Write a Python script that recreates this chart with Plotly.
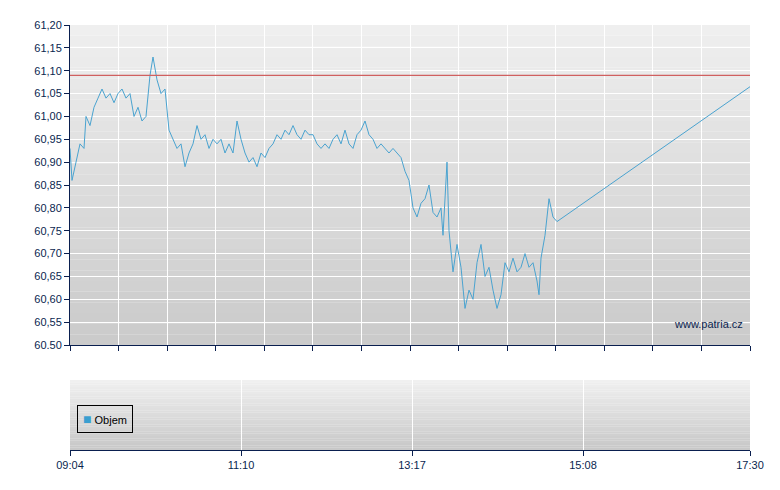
import plotly.graph_objects as go

x_pos = [0,2,6,10,14,16,20,24,28,32,36,40,44,48,52,56,60,64,68,72,76,80,83,87,91,95,99,103,107,111,115,119,123,127,131,135,139,143,147,151,155,159,163,167,171,175,179,183,187,191,195,199,203,207,211,215,219,223,227,231,235,239,243,247,251,255,259,263,267,271,275,279,283,287,291,295,299,303,307,311,315,319,323,327,331,335,339,343,347,351,355,359,363,367,371,373,377,379,383,387,391,395,399,403,407,411,415,419,423,427,431,435,439,443,447,451,455,459,463,467,469,471,475,479,483,487,680]
prices = [60.93,60.86,60.90,60.94,60.93,61.00,60.98,61.02,61.04,61.06,61.04,61.05,61.03,61.05,61.06,61.04,61.05,61.00,61.02,60.99,61.00,61.09,61.13,61.08,61.05,61.06,60.97,60.95,60.93,60.94,60.89,60.92,60.94,60.98,60.95,60.96,60.93,60.95,60.94,60.95,60.92,60.94,60.92,60.99,60.95,60.92,60.90,60.91,60.89,60.92,60.91,60.93,60.94,60.96,60.95,60.97,60.96,60.98,60.96,60.95,60.97,60.96,60.96,60.94,60.93,60.94,60.93,60.95,60.96,60.94,60.97,60.94,60.93,60.96,60.97,60.99,60.96,60.95,60.93,60.94,60.93,60.92,60.93,60.92,60.91,60.88,60.86,60.80,60.78,60.81,60.82,60.85,60.79,60.78,60.80,60.74,60.90,60.75,60.66,60.72,60.67,60.58,60.62,60.60,60.68,60.72,60.65,60.67,60.62,60.58,60.61,60.68,60.66,60.69,60.66,60.67,60.70,60.67,60.68,60.64,60.61,60.69,60.74,60.82,60.78,60.77,61.065]
ref_price = 61.09
y_ticks = [60.50,60.55,60.60,60.65,60.70,60.75,60.80,60.85,60.90,60.95,61.00,61.05,61.10,61.15,61.20]
y_labels = ["60.50","60,55","60,60","60,65","60,70","60,75","60,80","60,85","60,90","60,95","61,00","61,05","61,10","61,15","61,20"]
time_labels = ["09:04","11:10","13:17","15:08","17:30"]
time_pos = [0,171,342,513,680]

navy = "#0a1f4f"
fig = go.Figure()
fig.add_trace(go.Scatter(x=x_pos, y=prices, mode="lines", line=dict(color="#4aa3d0", width=1), xaxis="x", yaxis="y", hoverinfo="skip"))
fig.add_trace(go.Scatter(x=[0,680], y=[ref_price,ref_price], mode="lines", line=dict(color="#d06060", width=1.3), xaxis="x", yaxis="y", hoverinfo="skip"))
fig.add_trace(go.Scatter(x=[0,680], y=[-1,-1], mode="lines", line=dict(width=0), xaxis="x2", yaxis="y2", hoverinfo="skip"))

shapes = []
n = 30
for xd, yd, top, bot in [("x", "y", (239,239,239), (203,203,203)), ("x2", "y2", (240,240,240), (200,200,200))]:
    for i in range(n):
        t = i/(n-1)
        c = tuple(int(top[k] + (bot[k]-top[k])*t) for k in range(3))
        shapes.append(dict(type="rect", xref=xd+" domain", yref=yd+" domain",
                           x0=0, x1=1, y0=1-(i+1)/n, y1=1-i/n, fillcolor="rgb(%d,%d,%d)" % c, line=dict(width=0), layer="below"))

H = 490.0
fig.update_layout(
    width=780, height=490, margin=dict(l=62, r=38, t=0, b=0, autoexpand=False),
    paper_bgcolor="white", plot_bgcolor="rgba(0,0,0,0)", showlegend=False, shapes=shapes,
    font=dict(family="Liberation Sans, Arial", size=11, color=navy),
    xaxis=dict(domain=[0,1], range=[0,680], tickvals=[i*680/14 for i in range(15)], ticktext=[""]*15,
               showgrid=True, gridcolor="white", gridwidth=1, ticks="outside", ticklen=5, tickcolor=navy,
               showline=True, linecolor=navy, linewidth=1, anchor="y", zeroline=False, automargin=False),
    yaxis=dict(domain=[1-337/H, 1-17/H], range=[60.5,61.2], tickvals=y_ticks, ticktext=y_labels,
               showgrid=True, gridcolor="white", ticks="outside", ticklen=5, tickcolor=navy, showline=True,
               linecolor=navy, zeroline=False, automargin=False),
    xaxis2=dict(domain=[0,1], range=[0,680], tickvals=time_pos, ticktext=time_labels, showgrid=True,
                gridcolor="white", ticks="outside", ticklen=5, tickcolor=navy, showline=True, linecolor=navy,
                anchor="y2", zeroline=False, automargin=False),
    yaxis2=dict(domain=[1-442/H, 1-372/H], range=[0,1], showticklabels=False, showgrid=False,
                zeroline=False, anchor="x2", automargin=False),
)
fig.add_annotation(x=1, y=0.04, xref="x domain", yref="y domain", xanchor="right", yanchor="bottom",
                   text="www.patria.cz", showarrow=False, font=dict(size=11, color=navy), xshift=-5)
fig.add_annotation(x=0.01, y=0.45, xref="x2 domain", yref="y2 domain", xanchor="left", yanchor="middle",
                   text="<span style='color:#3a9fd0;font-size:14px'>■</span> Objem", showarrow=False, bordercolor="black",
                   borderwidth=1, borderpad=5, bgcolor="rgba(0,0,0,0)", font=dict(size=11, color="black"))
fig.write_html("out.html")
